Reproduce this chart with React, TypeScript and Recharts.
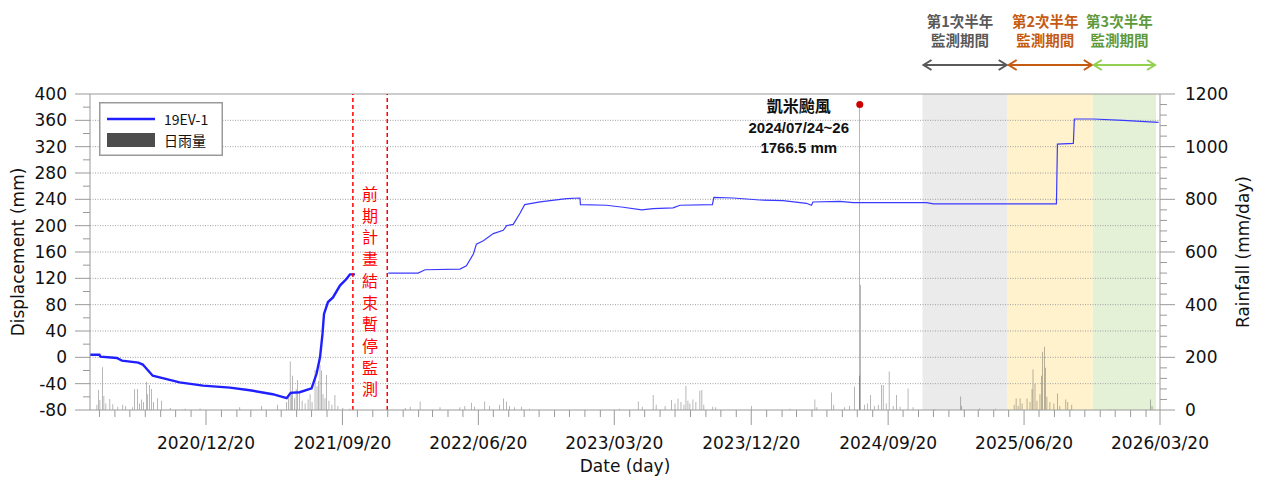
import React from "react";
import {
  ComposedChart,
  Line,
  Bar,
  XAxis,
  YAxis,
  ReferenceLine,
  ReferenceArea,
  ReferenceDot,
  Legend,
} from "recharts";

const day = (s: string) => {
  const [y, m, d] = s.split("/").map(Number);
  return Date.UTC(y, m - 1, d) / 86400000;
};

// ---- data ----
const startDate = "2020/05/01";
const endDate = "2026/03/20";
const majorTickLabels = [
  "2020/12/20", "2021/09/20", "2022/06/20", "2023/03/20",
  "2023/12/20", "2024/09/20", "2025/06/20", "2026/03/20",
];
const leftTicks = [-80, -60, -40, -20, 0, 20, 40, 60, 80, 100, 120, 140, 160, 180, 200, 220, 240, 260, 280, 300, 320, 340, 360, 380, 400];
const rightTicks = [0, 40, 80, 120, 160, 200, 240, 280, 320, 360, 400, 440, 480, 520, 560, 600, 640, 680, 720, 760, 800, 840, 880, 920, 960, 1000, 1040, 1080, 1120, 1160, 1200];
const gridValues = [-40, 0, 40, 80, 120, 160, 200, 240, 280, 320, 360];

// displacement before the pause (mm)
const phase1: [string, number][] = [
  ["2020/05/01", 4], ["2020/05/20", 4], ["2020/05/22", 1], ["2020/06/24", -1],
  ["2020/07/04", -5], ["2020/08/06", -8], ["2020/08/15", -11], ["2020/09/04", -28],
  ["2020/10/02", -33], ["2020/10/28", -38], ["2020/12/14", -43], ["2021/02/06", -46],
  ["2021/03/18", -50], ["2021/05/03", -56], ["2021/05/31", -62], ["2021/06/08", -54],
  ["2021/06/26", -53], ["2021/07/20", -47], ["2021/07/30", -25], ["2021/08/06", 0],
  ["2021/08/11", 36], ["2021/08/14", 66], ["2021/08/22", 84], ["2021/09/01", 91],
  ["2021/09/15", 109], ["2021/09/28", 119], ["2021/10/05", 126], ["2021/10/15", 126],
];

// displacement after monitoring resumed (mm)
const phase2: [string, number][] = [
  ["2021/12/21", 128], ["2022/02/19", 128], ["2022/03/05", 133], ["2022/05/14", 134],
  ["2022/05/27", 139], ["2022/06/10", 157], ["2022/06/16", 172], ["2022/06/30", 177],
  ["2022/07/20", 188], ["2022/08/09", 193], ["2022/08/16", 200], ["2022/08/29", 202],
  ["2022/09/11", 218], ["2022/09/21", 232], ["2022/10/22", 236], ["2022/12/14", 241],
  ["2023/01/10", 242], ["2023/01/11", 232], ["2023/03/04", 231], ["2023/04/07", 228],
  ["2023/05/14", 224], ["2023/06/06", 226], ["2023/07/16", 227], ["2023/07/30", 231],
  ["2023/10/03", 232], ["2023/10/06", 243], ["2023/11/14", 242], ["2024/01/06", 239],
  ["2024/02/22", 238], ["2024/04/09", 234], ["2024/04/19", 231], ["2024/04/22", 236],
  ["2024/06/15", 237], ["2024/07/12", 235], ["2024/12/06", 235], ["2024/12/20", 233],
  ["2025/08/24", 233], ["2025/08/26", 324], ["2025/09/27", 325], ["2025/09/29", 362],
  ["2025/11/06", 362], ["2026/01/05", 360], ["2026/03/17", 357],
];

// daily rainfall (mm/day)
const rainfall: [string, number][] = [
  ["2020/05/15", 20], ["2020/05/18", 76], ["2020/05/21", 38], ["2020/05/26", 162],
  ["2020/05/29", 53], ["2020/06/02", 25], ["2020/06/10", 42], ["2020/06/16", 22],
  ["2020/06/26", 12], ["2020/07/06", 20], ["2020/07/12", 15], ["2020/07/26", 10],
  ["2020/07/30", 80], ["2020/08/05", 80], ["2020/08/09", 25], ["2020/08/13", 40],
  ["2020/08/17", 30], ["2020/08/23", 107], ["2020/08/25", 60], ["2020/08/29", 95],
  ["2020/09/02", 80], ["2020/09/06", 30], ["2020/09/14", 45], ["2020/09/22", 35],
  ["2020/10/09", 8], ["2020/11/08", 5], ["2020/12/08", 6],
  ["2021/02/26", 10], ["2021/04/11", 15], ["2021/05/13", 20],
  ["2021/05/31", 30], ["2021/06/04", 60], ["2021/06/07", 184], ["2021/06/10", 70],
  ["2021/06/12", 130], ["2021/06/16", 45], ["2021/06/19", 80], ["2021/06/22", 114],
  ["2021/06/26", 70], ["2021/07/01", 35], ["2021/07/07", 25], ["2021/07/13", 40],
  ["2021/07/17", 60], ["2021/07/21", 30], ["2021/07/27", 152], ["2021/07/31", 90],
  ["2021/08/03", 110], ["2021/08/06", 171], ["2021/08/09", 150], ["2021/08/12", 60],
  ["2021/08/16", 45], ["2021/08/19", 133], ["2021/08/24", 35], ["2021/08/30", 20],
  ["2021/09/05", 57], ["2021/09/11", 15], ["2021/09/21", 8], ["2021/10/05", 5],
  ["2022/01/24", 8], ["2022/02/03", 12], ["2022/02/23", 32], ["2022/04/04", 10],
  ["2022/05/14", 10], ["2022/05/24", 15], ["2022/06/06", 28], ["2022/06/12", 12],
  ["2022/07/03", 32], ["2022/07/13", 15], ["2022/08/02", 20], ["2022/08/09", 44],
  ["2022/08/16", 32], ["2022/08/22", 15], ["2022/09/01", 10], ["2022/09/15", 12],
  ["2022/10/01", 5],
  ["2023/03/31", 5], ["2023/05/07", 32], ["2023/05/15", 12], ["2023/06/06", 57],
  ["2023/06/12", 20], ["2023/06/30", 15], ["2023/07/13", 38], ["2023/07/20", 25],
  ["2023/07/26", 44], ["2023/08/01", 30], ["2023/08/07", 20], ["2023/08/11", 91],
  ["2023/08/15", 35], ["2023/08/19", 25], ["2023/08/25", 40], ["2023/08/31", 30],
  ["2023/09/08", 73], ["2023/09/12", 76], ["2023/09/16", 20], ["2023/10/04", 12],
  ["2023/10/10", 10], ["2023/12/21", 15],
  ["2024/03/07", 5], ["2024/04/26", 40], ["2024/04/30", 10], ["2024/05/29", 66],
  ["2024/06/03", 20], ["2024/06/25", 10], ["2024/07/05", 15], ["2024/07/15", 89],
  ["2024/07/24", 130], ["2024/07/25", 1160], ["2024/07/26", 476], ["2024/08/03", 20],
  ["2024/08/09", 25], ["2024/08/16", 57], ["2024/08/23", 15], ["2024/08/31", 20],
  ["2024/09/07", 95], ["2024/09/10", 95], ["2024/09/16", 25], ["2024/09/22", 146],
  ["2024/09/30", 15], ["2024/10/07", 57], ["2024/10/14", 12], ["2024/10/30", 82],
  ["2024/11/09", 10],
  ["2024/12/23", 4], ["2025/02/13", 51], ["2025/02/15", 15], ["2025/03/23", 6],
  ["2025/04/23", 5],
  ["2025/05/31", 20], ["2025/06/04", 44], ["2025/06/08", 15], ["2025/06/12", 44],
  ["2025/06/16", 25], ["2025/06/26", 44], ["2025/07/02", 30], ["2025/07/06", 80],
  ["2025/07/08", 154], ["2025/07/12", 100], ["2025/07/16", 35], ["2025/07/22", 60],
  ["2025/07/25", 130], ["2025/07/27", 221], ["2025/07/31", 240], ["2025/08/02", 160],
  ["2025/08/05", 50], ["2025/08/11", 30], ["2025/08/19", 25], ["2025/08/26", 63],
  ["2025/08/31", 15], ["2025/09/12", 40], ["2025/09/16", 30], ["2025/09/24", 20],
  ["2025/12/10", 3], ["2026/03/01", 40], ["2026/03/04", 15],
];

const pauseStart = "2021/10/11";
const pauseEnd = "2021/12/19";
const pauseText = "前期計畫結束暫停監測";

const typhoonDate = "2024/07/25";
const typhoonPeak = 1160;
const typhoonText = ["凱米颱風", "2024/07/24~26", "1766.5 mm"];

const periodBounds = ["2024/11/28", "2025/05/18", "2025/11/05", "2026/03/12"];
const periodTitles = [
  ["第1次半年", "監測期間"],
  ["第2次半年", "監測期間"],
  ["第3次半年", "監測期間"],
];

// ---- styles ----
const periodFills = ["#ebebeb", "#fff2cc", "#e4f1d7"];
const periodText = ["#595959", "#c55a11", "#5e9a3c"];
const periodArrow = ["#595959", "#c55a11", "#92d050"];
const AXIS = "#9a9a9a";
const LATIN = "'DejaVu Sans', sans-serif";
const CJK = "'Noto Sans CJK TC', 'Noto Sans CJK SC', sans-serif";
const ANNO = "'Liberation Sans', 'Noto Sans CJK TC', sans-serif";

// ---- derived ----
const t0 = day(startDate);
const t1 = day(endDate);
const majorMap = new Map(majorTickLabels.map((s) => [day(s), s]));
const monthTicks: number[] = [];
for (let y = 2020, m = 5; y < 2026 || (y === 2026 && m <= 3); ) {
  monthTicks.push(Date.UTC(y, m - 1, 20) / 86400000);
  m++;
  if (m > 12) {
    m = 1;
    y++;
  }
}
const rainData = rainfall.map(([d, v]) => ({ t: day(d), rain: v }));
const line1 = phase1.map(([d, v]) => ({ t: day(d), disp: v }));
const line2 = phase2.map(([d, v]) => ({ t: day(d), disp: v }));

const XTick = (props: any) => {
  const { x, y, payload } = props;
  const label = majorMap.get(payload.value);
  return (
    <g>
      <line x1={x} x2={x} y1={y} y2={y + (label ? 15 : 7)} stroke={AXIS} />
      {label && (
        <text x={x} y={y + 33} textAnchor="middle" dominantBaseline="central" fontSize={17} fill="#111" fontFamily={LATIN}>
          {label}
        </text>
      )}
    </g>
  );
};

const LeftTick = (props: any) => {
  const { x, y, payload } = props;
  const major = payload.value % 40 === 0;
  return (
    <g>
      <line x1={x - (major ? 15 : 7)} x2={x} y1={y} y2={y} stroke={AXIS} />
      {major && (
        <text x={x - 23} y={y} textAnchor="end" dominantBaseline="central" fontSize={17} fill="#111" fontFamily={LATIN}>
          {payload.value}
        </text>
      )}
    </g>
  );
};

const RightTick = (props: any) => {
  const { x, y, payload } = props;
  const major = payload.value % 200 === 0;
  return (
    <g>
      <line x1={x} x2={x + (major ? 15 : 7)} y1={y} y2={y} stroke={AXIS} />
      {major && (
        <text x={x + 25} y={y} textAnchor="start" dominantBaseline="central" fontSize={17} fill="#111" fontFamily={LATIN}>
          {payload.value}
        </text>
      )}
    </g>
  );
};

const AxisTitle = (props: any) => {
  const { viewBox, value, dx, dy, rotate } = props;
  const cx = viewBox.x + (dx ?? viewBox.width / 2);
  const cy = viewBox.y + (dy ?? viewBox.height / 2);
  return (
    <text
      x={cx}
      y={cy}
      textAnchor="middle"
      dominantBaseline="central"
      fontSize={17}
      fill="#111"
      fontFamily={LATIN}
      transform={rotate ? `rotate(-90, ${cx}, ${cy})` : undefined}
    >
      {value}
    </text>
  );
};

const PauseLabel = (props: any) => {
  const { viewBox } = props;
  const cx = viewBox.x + viewBox.width / 2;
  return (
    <g>
      {pauseText.split("").map((ch, i) => (
        <text key={i} x={cx} y={viewBox.y + 99 + i * 21.7} textAnchor="middle" dominantBaseline="central" fontSize={16} fill="#ff0000" fontFamily={CJK}>
          {ch}
        </text>
      ))}
    </g>
  );
};

const TyphoonLabel = (props: any) => {
  const { viewBox } = props;
  const cx = viewBox.x + viewBox.width / 2 - 61;
  const cy = viewBox.y + viewBox.height / 2;
  return (
    <g>
      {typhoonText.map((s, i) => (
        <text key={i} x={cx} y={cy + 2 + i * 20.5} textAnchor="middle" dominantBaseline="central" fontSize={i === 0 ? 16 : 15} fontWeight="bold" fill="#111" fontFamily={ANNO}>
          {s}
        </text>
      ))}
    </g>
  );
};

const PeriodLabel = (props: any) => {
  const { viewBox, idx } = props;
  const { x, y, width } = viewBox;
  const cx = x + width / 2 - 5;
  const ay = y - 29;
  const a = periodArrow[idx];
  const l = x + 1;
  const r = x + width - 1;
  return (
    <g>
      {periodTitles[idx].map((s, i) => (
        <text key={i} x={cx} y={y - 74 + i * 19} textAnchor="middle" dominantBaseline="central" fontSize={14.5} fontWeight="bold" fill={periodText[idx]} fontFamily={CJK}>
          {s}
        </text>
      ))}
      <line x1={l + 1} x2={r - 1} y1={ay} y2={ay} stroke={a} strokeWidth={2} />
      <polyline points={`${l + 8},${ay - 5} ${l},${ay} ${l + 8},${ay + 5}`} fill="none" stroke={a} strokeWidth={2} />
      <polyline points={`${r - 8},${ay - 5} ${r},${ay} ${r - 8},${ay + 5}`} fill="none" stroke={a} strokeWidth={2} />
    </g>
  );
};

const LegendBox = (props: any) => {
  const items = (props.payload || [])
    .filter((it: any) => it.type !== "none")
    .sort((a: any, b: any) => (a.type === "line" ? 0 : 1) - (b.type === "line" ? 0 : 1));
  return (
    <svg width={124} height={54} style={{ display: "block" }}>
      <rect x={0.75} y={0.75} width={122.5} height={52.5} fill="#fff" stroke={AXIS} strokeWidth={1.5} />
      {items.map((it: any, i: number) => {
        const cy = 17 + i * 21;
        return (
          <g key={i}>
            {it.type === "line" ? (
              <line x1={8} x2={56} y1={cy} y2={cy} stroke={it.color} strokeWidth={2.5} />
            ) : (
              <rect x={8} y={cy - 7} width={48} height={14} fill="#4d4d4d" />
            )}
            <text x={65} y={cy} dominantBaseline="central" fontSize={14} fill="#111" fontFamily={CJK}>
              {it.value}
            </text>
          </g>
        );
      })}
    </svg>
  );
};

export default function App() {
  return (
    <div>
      <style>{"body{margin:0;}"}</style>
      <ComposedChart
        width={1261}
        height={479}
        data={rainData}
        margin={{ top: 94, right: 0, bottom: 0, left: 0 }}
        style={{ fontFamily: LATIN }}
      >
        <XAxis
          dataKey="t"
          type="number"
          domain={[t0, t1]}
          allowDataOverflow
          ticks={monthTicks}
          interval={0}
          tick={<XTick />}
          tickLine={false}
          tickSize={0}
          tickMargin={0}
          axisLine={{ stroke: AXIS }}
          height={69}
          label={<AxisTitle value="Date (day)" dy={56} />}
        />
        <YAxis
          yAxisId="left"
          type="number"
          domain={[-80, 400]}
          allowDataOverflow
          ticks={leftTicks}
          interval={0}
          tick={<LeftTick />}
          tickLine={false}
          tickSize={0}
          tickMargin={0}
          axisLine={{ stroke: AXIS }}
          width={90}
          label={<AxisTitle value="Displacement (mm)" dx={18} rotate />}
        />
        <YAxis
          yAxisId="right"
          orientation="right"
          type="number"
          domain={[0, 1200]}
          allowDataOverflow
          ticks={rightTicks}
          interval={0}
          tick={<RightTick />}
          tickLine={false}
          tickSize={0}
          tickMargin={0}
          axisLine={{ stroke: AXIS }}
          width={101}
          label={<AxisTitle value="Rainfall (mm/day)" dx={83} rotate />}
        />

        {periodTitles.map((_, i) => (
          <ReferenceArea
            key={i}
            yAxisId="left"
            x1={day(periodBounds[i])}
            x2={day(periodBounds[i + 1])}
            fill={periodFills[i]}
            fillOpacity={1}
            stroke="none"
            label={<PeriodLabel idx={i} />}
          />
        ))}

        {gridValues.map((v) => (
          <ReferenceLine key={v} yAxisId="left" y={v} stroke="#a0a0a0" strokeDasharray="1 1.5" />
        ))}
        <ReferenceLine yAxisId="left" y={400} stroke={AXIS} />

        <Bar
          dataKey="rain"
          name="日雨量"
          yAxisId="right"
          barSize={1}
          fill="#3a3a3a"
          fillOpacity={0.8}
          isAnimationActive={false}
        />
        <Line
          data={line1}
          dataKey="disp"
          name="19EV-1"
          yAxisId="left"
          type="linear"
          stroke="#1f1fff"
          strokeWidth={2.4}
          dot={false}
          activeDot={false}
          isAnimationActive={false}
        />
        <Line
          data={line2}
          dataKey="disp"
          name="19EV-1 (resumed)"
          legendType="none"
          yAxisId="left"
          type="linear"
          stroke="#3a3aff"
          strokeWidth={1.2}
          dot={false}
          activeDot={false}
          isAnimationActive={false}
        />

        <ReferenceLine yAxisId="left" x={day(pauseStart)} stroke="#ff0000" strokeWidth={1.5} strokeDasharray="4 3" />
        <ReferenceLine yAxisId="left" x={day(pauseEnd)} stroke="#ff0000" strokeWidth={1.5} strokeDasharray="4 3" />
        <ReferenceArea
          yAxisId="left"
          x1={day(pauseStart)}
          x2={day(pauseEnd)}
          fill="none"
          stroke="none"
          label={<PauseLabel />}
        />

        <ReferenceDot
          yAxisId="right"
          x={day(typhoonDate)}
          y={typhoonPeak}
          r={3.5}
          fill="#cc0000"
          stroke="none"
          label={<TyphoonLabel />}
        />

        <Legend
          layout="vertical"
          align="center"
          verticalAlign="middle"
          width={124}
          height={54}
          wrapperStyle={{ left: 99, top: 102 }}
          content={<LegendBox />}
        />
      </ComposedChart>
    </div>
  );
}
